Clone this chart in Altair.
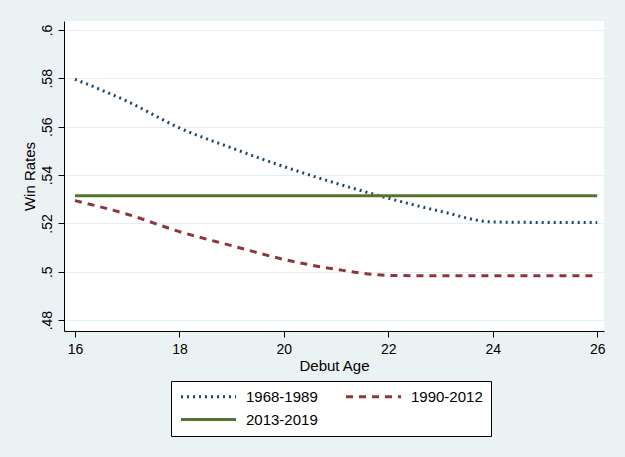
import altair as alt
import pandas as pd

ages = [16, 17, 18, 19, 20, 21, 22, 23, 24, 25, 26]
s1968 = [0.5796, 0.5705, 0.5595, 0.5512, 0.5435, 0.5366, 0.5304, 0.5250, 0.5206, 0.5204, 0.5204]
s1990 = [0.5294, 0.5238, 0.5166, 0.5108, 0.5051, 0.5010, 0.4985, 0.4983, 0.4983, 0.4983, 0.4983]
s2013 = [0.5314] * 11
series_names = ["1968-1989", "1990-2012", "2013-2019"]
y_ticks = [0.48, 0.5, 0.52, 0.54, 0.56, 0.58, 0.6]
x_ticks = [16, 18, 20, 22, 24, 26]

rows = []
for name, vals in zip(series_names, [s1968, s1990, s2013]):
    for a, v in zip(ages, vals):
        rows.append({"age": a, "rate": v, "series": name})
df = pd.DataFrame(rows)

FONT = "Liberation Sans"


def make_legend():
    return alt.Legend(title=None, orient="none", legendX=107, legendY=360,
                      direction="horizontal", columns=2, columnPadding=22, rowPadding=7,
                      padding=8, strokeColor="#000", fillColor="#fff",
                      symbolType="M-1,0H9", symbolSize=121,
                      symbolStrokeWidth=3, labelOffset=52,
                      labelFontSize=15, labelFont=FONT, labelColor="#000")


chart = alt.Chart(df).mark_line(strokeWidth=3, interpolate="monotone").encode(
    x=alt.X("age:Q",
            scale=alt.Scale(domain=[15.79, 26.13], nice=False, zero=False),
            axis=alt.Axis(values=x_ticks, title="Debut Age", grid=False,
                          tickSize=6, labelPadding=5, titlePadding=2,
                          labelFontSize=14, titleFontSize=15,
                          labelFont=FONT, titleFont=FONT,
                          labelColor="#000", titleColor="#000",
                          titleFontWeight="normal",
                          domainColor="#000", tickColor="#000")),
    y=alt.Y("rate:Q",
            scale=alt.Scale(domain=[0.4755, 0.6037], nice=False, zero=False),
            axis=alt.Axis(values=y_ticks, title="Win Rates", grid=True,
                          gridColor="#E4EEF2", gridWidth=1,
                          labelExpr="substring(toString(datum.value), 1)",
                          labelAngle=270, labelAlign="center", labelBaseline="bottom",
                          tickSize=6, labelPadding=4, titlePadding=3,
                          labelFontSize=14, titleFontSize=15,
                          labelFont=FONT, titleFont=FONT,
                          labelColor="#000", titleColor="#000",
                          titleFontWeight="normal",
                          domainColor="#000", tickColor="#000")),
    color=alt.Color("series:N",
                    scale=alt.Scale(domain=series_names,
                                    range=["#1A476F", "#90353B", "#55752F"]),
                    legend=make_legend()),
    strokeDash=alt.StrokeDash("series:N",
                              scale=alt.Scale(domain=series_names,
                                              range=[[2, 4], [7, 6], [1, 0]]),
                              legend=make_legend()),
).properties(
    width=540, height=310,
    autosize=alt.AutoSizeParams(type="none"),
    padding={"left": 64, "top": 21, "right": 21, "bottom": 126},
    background="#EAF2F3",
).configure_view(
    stroke=None, fill="#FFFFFF"
)

chart.save("out.html", embed_options={"renderer": "svg", "actions": False})
